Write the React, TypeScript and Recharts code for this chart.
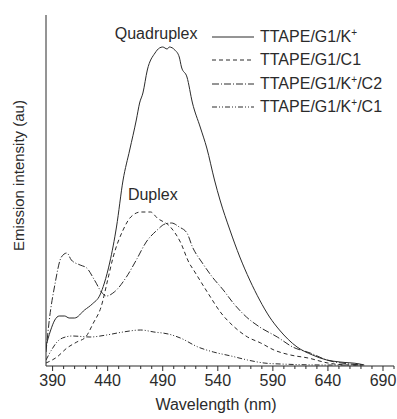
import { LineChart, Line, XAxis, YAxis, Legend, ReferenceDot } from "recharts";

// Wavelength (nm) / intensity (au)
const WL_K = [384, 388, 392, 396, 401, 405, 410, 419, 426, 433, 437, 442, 448, 454, 460, 466, 469, 472, 476, 483, 487, 490, 494, 496, 501, 505, 507, 512, 517, 524, 530, 537, 542, 551, 560, 569, 578, 587, 596, 612, 626, 639, 651, 669, 673];
const INT_K = [20, 35, 46, 50, 50, 48, 48, 56, 62, 71, 83, 104, 139, 186, 216, 246, 263, 273, 296, 313, 318, 319, 317, 319, 316, 309, 299, 289, 263, 239, 218, 186, 166, 136, 109, 86, 66, 49, 36, 19, 11, 6, 4, 2, 1];

const WL_C1 = [384, 394, 403, 412, 420, 427, 434, 440, 445, 454, 461, 470, 479, 485, 497, 506, 514, 518, 531, 543, 555, 567, 579, 591, 606, 622, 640, 660, 672];
const INT_C1 = [3, 9, 18, 24, 29, 43, 59, 86, 109, 136, 149, 154, 154, 148, 139, 124, 103, 96, 73, 53, 39, 29, 23, 16, 11, 8, 3, 1, 1];

const WL_KC2 = [384, 387, 392, 398, 403, 407, 415, 421, 428, 435, 439, 446, 457, 466, 475, 485, 492, 498, 505, 512, 517, 526, 535, 545, 554, 566, 578, 594, 608, 624, 639, 660, 672];
const INT_KC2 = [14, 46, 81, 109, 113, 106, 101, 98, 86, 73, 70, 74, 89, 106, 124, 136, 142, 143, 139, 133, 119, 103, 89, 76, 63, 49, 39, 29, 19, 13, 6, 2, 1];

const WL_KC1 = [384, 389, 394, 399, 408, 424, 439, 454, 470, 482, 495, 506, 522, 536, 552, 567, 582, 597, 640, 672];
const INT_KC1 = [6, 16, 24, 28, 30, 29, 31, 34, 36, 34, 32, 28, 19, 14, 10, 6, 3, 2, 1, 1];

const X_TICKS = [390, 400, 410, 420, 430, 440, 450, 460, 470, 480, 490, 500, 510, 520, 530, 540, 550, 560, 570, 580, 590, 600, 610, 620, 630, 640, 650, 660, 670, 680, 690, 700];

const INK = "#2b2b2b";
const FONT = "Arial, 'Liberation Sans', Helvetica, sans-serif";

const pts = (wl: number[], v: number[]) => wl.map((x, i) => ({ wl: x, v: v[i] }));

const SERIES = [
  { key: "k", label: "TTAPE/G1/K", sup: "+", tail: "", data: pts(WL_K, INT_K), dash: undefined as string | undefined },
  { key: "c1", label: "TTAPE/G1/C1", sup: "", tail: "", data: pts(WL_C1, INT_C1), dash: "4 3" },
  { key: "kc2", label: "TTAPE/G1/K", sup: "+", tail: "/C2", data: pts(WL_KC2, INT_KC2), dash: "7 2 1 2" },
  { key: "kc1", label: "TTAPE/G1/K", sup: "+", tail: "/C1", data: pts(WL_KC1, INT_KC1), dash: "5 2 1 2 1 2" },
];

function XTick(props: any) {
  const { x, y, payload } = props;
  const major = (payload.value - 390) % 50 === 0;
  return (
    <g>
      <line x1={x} x2={x} y1={y} y2={y + (major ? 5 : 3)} stroke={INK} />
      {major && (
        <text x={x} y={y + 9} dy="0.71em" textAnchor="middle" fontSize={16} fontFamily={FONT} fill={INK}>
          {payload.value}
        </text>
      )}
    </g>
  );
}

function SpecLegend() {
  return (
    <div style={{ fontFamily: FONT, fontSize: 16, color: INK }}>
      {SERIES.map((s) => (
        <div key={s.key} style={{ display: "flex", alignItems: "center", height: 23.5 }}>
          <svg width={45} height={10} style={{ marginRight: 3 }}>
            <line x1={0} x2={42} y1={5} y2={5} stroke={INK} strokeWidth={1} strokeDasharray={s.dash} />
          </svg>
          <span style={{ lineHeight: "18px" }}>
            {s.label}
            {s.sup && (
              <span style={{ fontSize: 10, position: "relative", top: -6, lineHeight: 0 }}>{s.sup}</span>
            )}
            {s.tail}
          </span>
        </div>
      ))}
    </div>
  );
}

export default function App() {
  return (
    <div style={{ position: "absolute", left: 0, top: 0, background: "#fff" }}>
      <LineChart width={397} height={419} margin={{ top: 15, right: 3, left: 0, bottom: 0 }}>
        <XAxis
          dataKey="wl"
          type="number"
          domain={[384, 700]}
          ticks={X_TICKS}
          interval={0}
          tickSize={0}
          tickMargin={0}
          tickLine={false}
          tick={<XTick />}
          height={53}
          allowDataOverflow
          axisLine={{ stroke: INK }}
          label={{
            content: ({ viewBox }: any) => (
              <text x={viewBox.x + viewBox.width / 2 - 4} y={viewBox.y + 44} textAnchor="middle" fontSize={16} fontFamily={FONT} fill={INK}>
                Wavelength (nm)
              </text>
            ),
          }}
        />
        <YAxis
          type="number"
          domain={[0, 351]}
          tick={false}
          tickLine={false}
          width={46}
          axisLine={{ stroke: INK }}
          label={{
            content: ({ viewBox }: any) => {
              const cx = 18;
              const cy = viewBox.y + viewBox.height / 2 - 15;
              return (
                <text x={cx} y={cy} transform={`rotate(-90 ${cx} ${cy})`} textAnchor="middle" dominantBaseline="central" fontSize={15} fontFamily={FONT} fill={INK}>
                  Emission intensity (au)
                </text>
              );
            },
          }}
        />
        <Legend
          layout="vertical"
          verticalAlign="middle"
          align="center"
          content={<SpecLegend />}
          wrapperStyle={{ left: 212, top: 25, width: 185 }}
        />
        {SERIES.map((s) => (
          <Line
            key={s.key}
            data={s.data}
            dataKey="v"
            name={s.key}
            type="monotone"
            stroke={INK}
            strokeWidth={1}
            strokeDasharray={s.dash}
            dot={false}
            isAnimationActive={false}
          />
        ))}
        <ReferenceDot x={484} y={333} r={0} stroke="none" label={{ value: "Quadruplex", position: "center", fontSize: 16, fontFamily: FONT, fill: INK }} />
        <ReferenceDot x={481} y={172} r={0} stroke="none" label={{ value: "Duplex", position: "center", fontSize: 16, fontFamily: FONT, fill: INK }} />
      </LineChart>
    </div>
  );
}
